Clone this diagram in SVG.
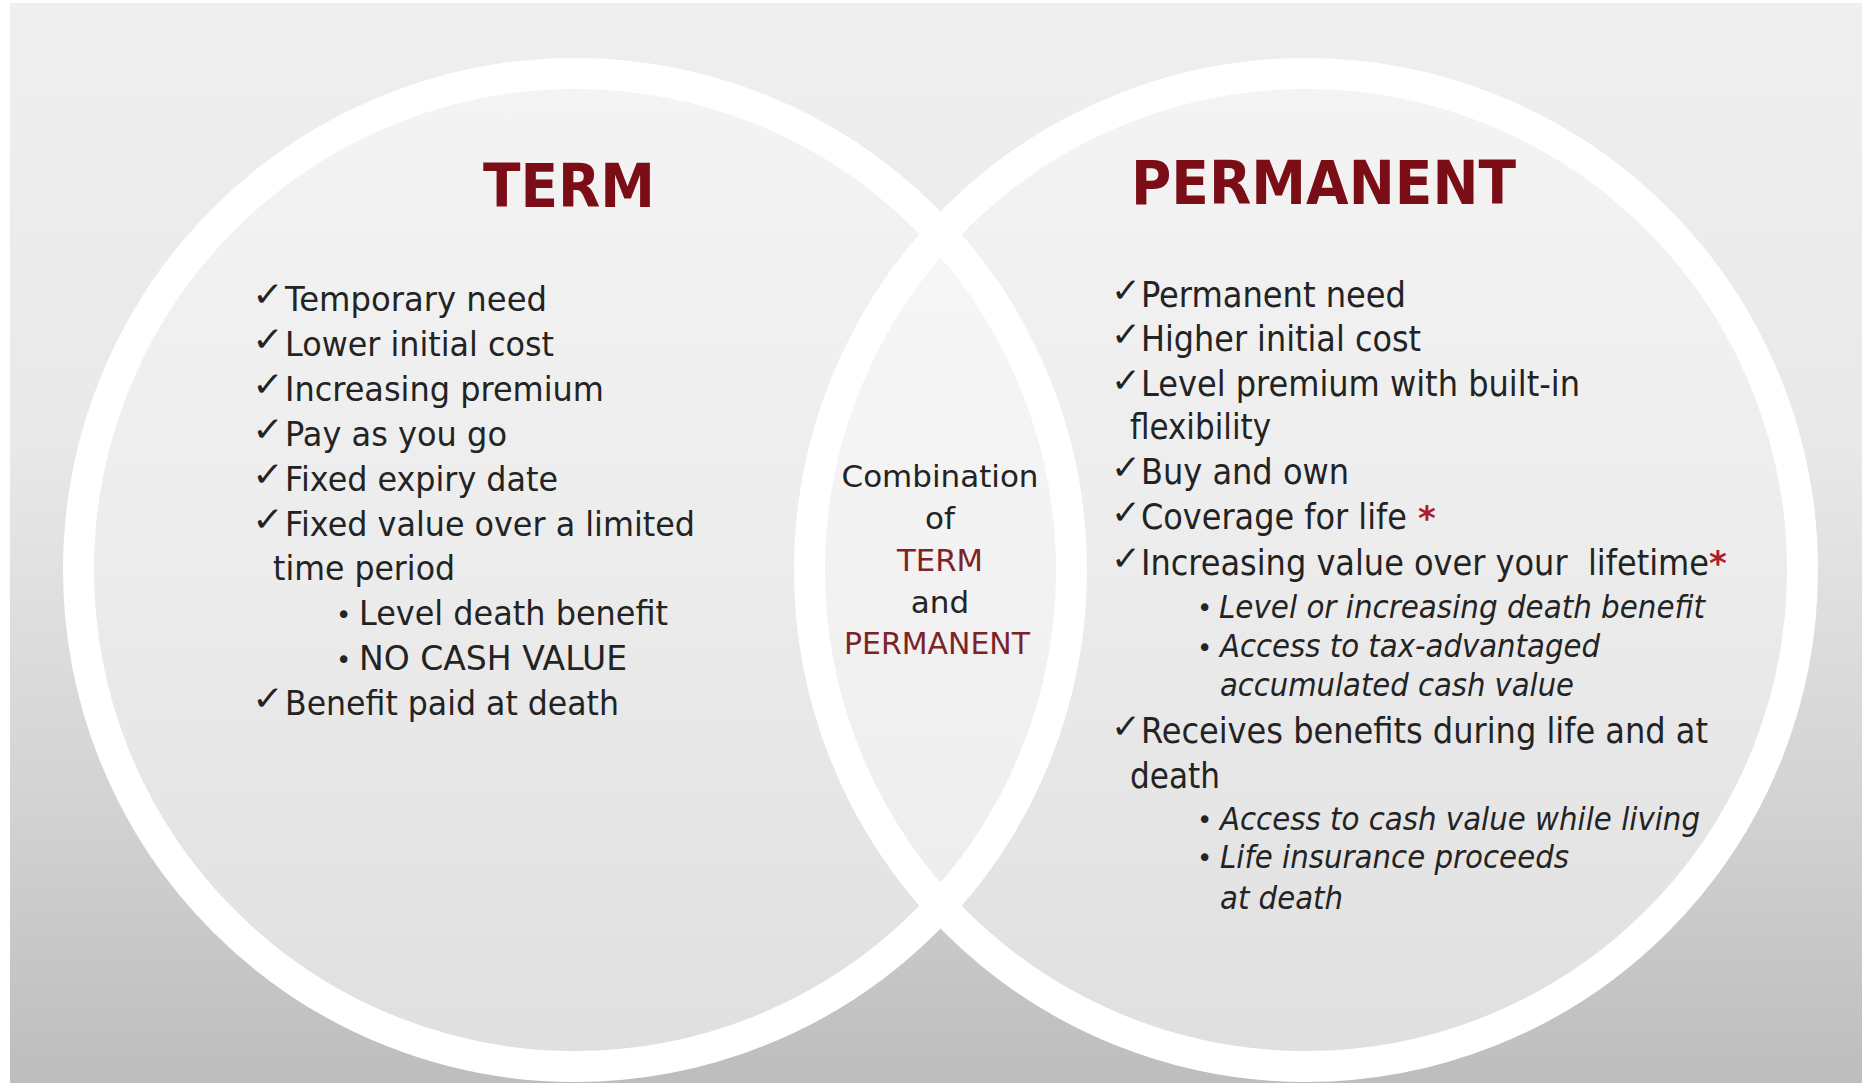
<svg xmlns="http://www.w3.org/2000/svg" width="1862" height="1083" viewBox="0 0 1862 1083">
<defs>
<linearGradient id="bg" x1="0" y1="0" x2="0" y2="1">
<stop offset="0" stop-color="#efefef"/>
<stop offset="0.4" stop-color="#e9e9e9"/>
<stop offset="0.75" stop-color="#d2d2d2"/>
<stop offset="1" stop-color="#bdbdbd"/>
</linearGradient>
<linearGradient id="fillg" x1="0" y1="0" x2="0" y2="1">
<stop offset="0" stop-color="#f4f4f4"/>
<stop offset="0.5" stop-color="#ececec"/>
<stop offset="1" stop-color="#dfdfdf"/>
</linearGradient>
<clipPath id="leftclip"><circle cx="575" cy="570" r="497"/></clipPath>
<style>
.ring{fill:none;stroke:#ffffff;stroke-width:31}
.title{font-family:"DejaVu Sans","Verdana",sans-serif;font-weight:bold;font-size:60px;fill:#7a0d16}
.lt{font-family:"DejaVu Sans","Verdana",sans-serif;font-size:33px;fill:#232323}
.rt{font-family:"DejaVu Sans Condensed","DejaVu Sans",sans-serif;font-size:35px;fill:#232323}
.ri{font-family:"DejaVu Sans Condensed","DejaVu Sans",sans-serif;font-size:32px;font-style:italic;fill:#232323}
.ck{font-family:"DejaVu Sans",sans-serif;font-size:34px;fill:#232323}
.bul{font-family:"DejaVu Sans",sans-serif;font-size:26px;fill:#232323}
.ct{font-family:"DejaVu Sans","Verdana",sans-serif;font-size:31px;fill:#232323;text-anchor:middle}
.cr{fill:#7d2328}
.ast{font-family:"DejaVu Sans",sans-serif;font-size:34px;font-weight:bold;fill:#b01c2a}
</style>
</defs>
<g id="background">
<rect x="0" y="0" width="1862" height="1083" fill="#ffffff"/>
<rect x="10" y="3" width="1852" height="1080" fill="url(#bg)"/>
</g>
<g id="circle-term-fill"><circle cx="575" cy="570" r="497" fill="url(#fillg)"/></g>
<g id="circle-permanent-fill"><circle cx="1306" cy="570" r="497" fill="url(#fillg)"/></g>
<g id="overlap"><circle cx="1306" cy="570" r="497" fill="#ffffff" fill-opacity="0.35" clip-path="url(#leftclip)"/></g>
<g id="rings">
<circle class="ring" cx="575" cy="570" r="496.5"/>
<circle class="ring" cx="1306" cy="570" r="496.5"/>
</g>
<g id="term">
<text class="title" x="483" y="207" textLength="172" lengthAdjust="spacingAndGlyphs">TERM</text>
<g class="ck">
<text x="252" y="306" textLength="32" lengthAdjust="spacingAndGlyphs">✓</text>
<text x="252" y="351" textLength="32" lengthAdjust="spacingAndGlyphs">✓</text>
<text x="252" y="396" textLength="32" lengthAdjust="spacingAndGlyphs">✓</text>
<text x="252" y="441" textLength="32" lengthAdjust="spacingAndGlyphs">✓</text>
<text x="252" y="486" textLength="32" lengthAdjust="spacingAndGlyphs">✓</text>
<text x="252" y="531" textLength="32" lengthAdjust="spacingAndGlyphs">✓</text>
<text x="252" y="710" textLength="32" lengthAdjust="spacingAndGlyphs">✓</text>
</g>
<text class="lt" x="285" y="311" textLength="262" lengthAdjust="spacingAndGlyphs">Temporary need</text>
<text class="lt" x="285" y="356" textLength="269" lengthAdjust="spacingAndGlyphs">Lower initial cost</text>
<text class="lt" x="285" y="401" textLength="319" lengthAdjust="spacingAndGlyphs">Increasing premium</text>
<text class="lt" x="285" y="446" textLength="222" lengthAdjust="spacingAndGlyphs">Pay as you go</text>
<text class="lt" x="285" y="491" textLength="273" lengthAdjust="spacingAndGlyphs">Fixed expiry date</text>
<text class="lt" x="285" y="536" textLength="410" lengthAdjust="spacingAndGlyphs">Fixed value over a limited</text>
<text class="lt" x="273" y="580" textLength="182" lengthAdjust="spacingAndGlyphs">time period</text>
<text class="bul" x="336" y="624">•</text>
<text class="lt" x="359" y="625" textLength="309" lengthAdjust="spacingAndGlyphs">Level death benefit</text>
<text class="bul" x="336" y="669">•</text>
<text class="lt" x="359" y="670" textLength="268" lengthAdjust="spacingAndGlyphs">NO CASH VALUE</text>
<text class="lt" x="285" y="715" textLength="334" lengthAdjust="spacingAndGlyphs">Benefit paid at death</text>
</g>
<g id="combination">
<text class="ct" x="940" y="487" textLength="197" lengthAdjust="spacingAndGlyphs">Combination</text>
<text class="ct" x="940" y="529">of</text>
<text class="ct cr" x="940" y="571" textLength="86" lengthAdjust="spacingAndGlyphs">TERM</text>
<text class="ct" x="940" y="613">and</text>
<text class="ct cr" x="937" y="654" textLength="186" lengthAdjust="spacingAndGlyphs">PERMANENT</text>
</g>
<g id="permanent">
<text class="title" x="1131" y="204" textLength="385" lengthAdjust="spacingAndGlyphs">PERMANENT</text>
<g class="ck">
<text x="1111" y="302" textLength="30" lengthAdjust="spacingAndGlyphs">✓</text>
<text x="1111" y="346" textLength="30" lengthAdjust="spacingAndGlyphs">✓</text>
<text x="1111" y="392" textLength="30" lengthAdjust="spacingAndGlyphs">✓</text>
<text x="1111" y="479" textLength="30" lengthAdjust="spacingAndGlyphs">✓</text>
<text x="1111" y="524" textLength="30" lengthAdjust="spacingAndGlyphs">✓</text>
<text x="1111" y="570" textLength="30" lengthAdjust="spacingAndGlyphs">✓</text>
<text x="1111" y="738" textLength="30" lengthAdjust="spacingAndGlyphs">✓</text>
</g>
<text class="rt" x="1141" y="307" textLength="265" lengthAdjust="spacingAndGlyphs">Permanent need</text>
<text class="rt" x="1141" y="351" textLength="280" lengthAdjust="spacingAndGlyphs">Higher initial cost</text>
<text class="rt" x="1141" y="396" textLength="439" lengthAdjust="spacingAndGlyphs">Level premium with built-in</text>
<text class="rt" x="1130" y="439" textLength="141" lengthAdjust="spacingAndGlyphs">flexibility</text>
<text class="rt" x="1141" y="484" textLength="208" lengthAdjust="spacingAndGlyphs">Buy and own</text>
<text class="rt" x="1141" y="529" textLength="266" lengthAdjust="spacingAndGlyphs">Coverage for life</text>
<text class="ast" x="1418" y="530">*</text>
<text class="rt" x="1141" y="575" textLength="568" lengthAdjust="spacingAndGlyphs">Increasing value over your&#160; lifetime</text>
<text class="ast" x="1709" y="575">*</text>
<text class="bul" x="1197" y="617">•</text>
<text class="ri" x="1219" y="618" textLength="486" lengthAdjust="spacingAndGlyphs">Level or increasing death benefit</text>
<text class="bul" x="1197" y="657">•</text>
<text class="ri" x="1220" y="657" textLength="380" lengthAdjust="spacingAndGlyphs">Access to tax-advantaged</text>
<text class="ri" x="1220" y="696" textLength="354" lengthAdjust="spacingAndGlyphs">accumulated cash value</text>
<text class="rt" x="1141" y="743" textLength="567" lengthAdjust="spacingAndGlyphs">Receives benefits during life and at</text>
<text class="rt" x="1130" y="788" textLength="90" lengthAdjust="spacingAndGlyphs">death</text>
<text class="bul" x="1197" y="829">•</text>
<text class="ri" x="1220" y="830" textLength="480" lengthAdjust="spacingAndGlyphs">Access to cash value while living</text>
<text class="bul" x="1197" y="867">•</text>
<text class="ri" x="1220" y="868" textLength="349" lengthAdjust="spacingAndGlyphs">Life insurance proceeds</text>
<text class="ri" x="1220" y="909" textLength="123" lengthAdjust="spacingAndGlyphs">at death</text>
</g>
</svg>
